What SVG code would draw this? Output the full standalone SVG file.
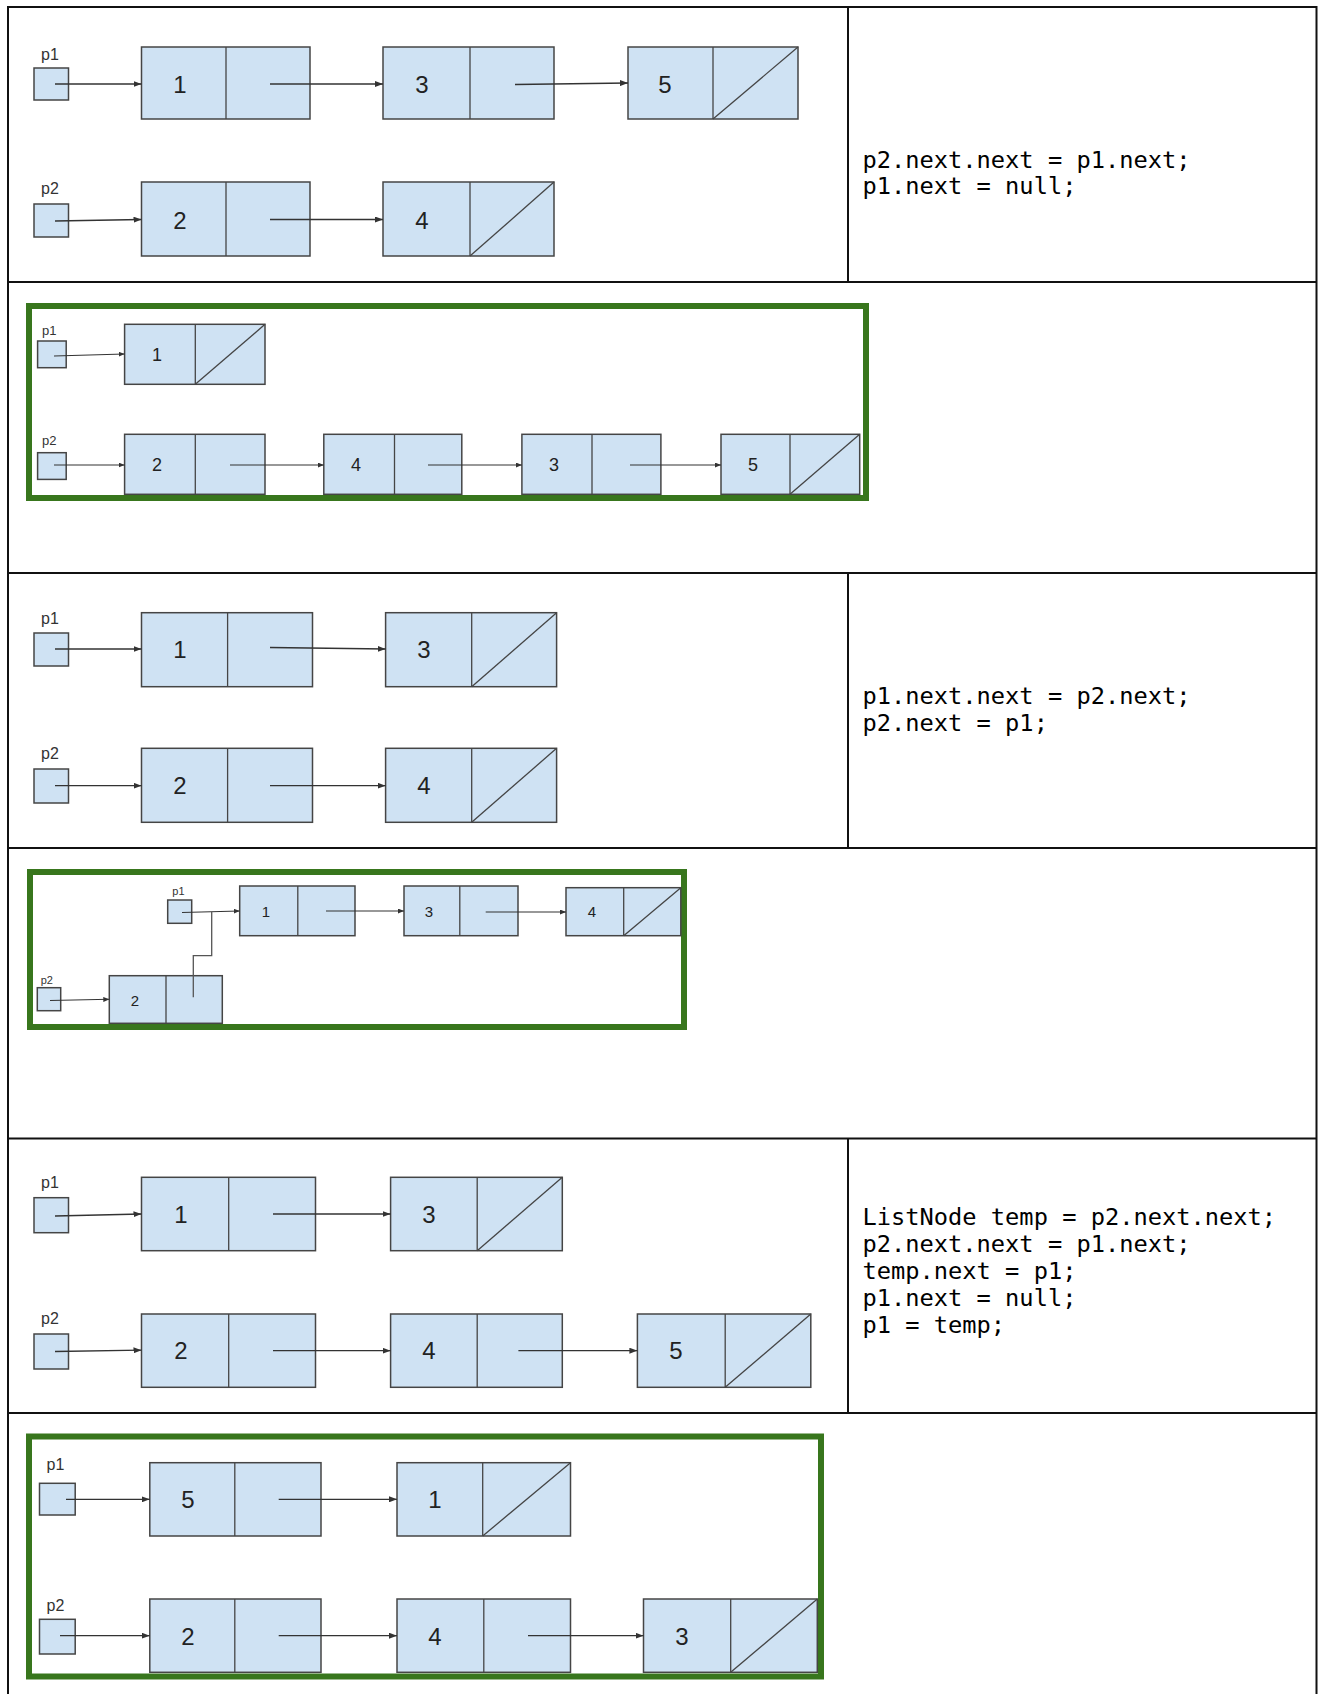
<svg xmlns="http://www.w3.org/2000/svg" width="1320" height="1694" viewBox="0 0 1320 1694">
<style>
.tbl{stroke:#111;stroke-width:2;fill:none}
.green{fill:none;stroke:#38761d;stroke-width:6}
.cell{fill:#cfe2f3;stroke:#454545;stroke-width:1.5}
.sep{stroke:#454545;stroke-width:1.3}
.arr{stroke:#333;stroke-width:1.3;fill:none;marker-end:url(#ah)}
.arrs{stroke:#333;stroke-width:1.1;fill:none;marker-end:url(#ahs)}
.link{stroke:#555;stroke-width:1.3;fill:none}
.num{font-family:"Liberation Sans",Arial,sans-serif;fill:#222;text-anchor:middle}
.lbl{font-family:"Liberation Sans",Arial,sans-serif;fill:#333}
.code{font-family:"DejaVu Sans Mono","Liberation Mono",monospace;font-size:23.7px;fill:#000}
</style>
<defs>
<marker id="ah" markerUnits="userSpaceOnUse" markerWidth="8" markerHeight="6" refX="8" refY="3" orient="auto"><path d="M0,0 L8,3 L0,6 z" fill="#333"/></marker>
<marker id="ahs" markerUnits="userSpaceOnUse" markerWidth="6" markerHeight="5" refX="6" refY="2.5" orient="auto"><path d="M0,0 L6,2.5 L0,5 z" fill="#333"/></marker>
</defs>
<rect width="1320" height="1694" fill="#fff"/>

<g id="table">
<path class="tbl" d="M8,7 H1316.5 M8,6 V1694 M1316.5,6 V1694 M8,282 H1316.5 M8,573 H1316.5 M8,848 H1316.5 M8,1138.5 H1316.5 M8,1413 H1316.5 M848,7 V282 M848,573 V848 M848,1138.5 V1413"/>
</g>

<g id="code">
<text class="code" x="862.5" y="168">p2.next.next = p1.next;</text>
<text class="code" x="862.5" y="194">p1.next = null;</text>
<text class="code" x="862.5" y="704">p1.next.next = p2.next;</text>
<text class="code" x="862.5" y="731">p2.next = p1;</text>
<text class="code" x="862.5" y="1225">ListNode temp = p2.next.next;</text>
<text class="code" x="862.5" y="1252">p2.next.next = p1.next;</text>
<text class="code" x="862.5" y="1279">temp.next = p1;</text>
<text class="code" x="862.5" y="1306">p1.next = null;</text>
<text class="code" x="862.5" y="1333">p1 = temp;</text>
</g>

<g id="frames">
<rect class="green" x="29" y="306" width="837" height="192"/>
<rect class="green" x="30" y="872" width="654" height="155"/>
<rect class="green" x="29" y="1436.5" width="792" height="240"/>
</g>

<!-- Row 1 -->
<g id="r1-p1"><text class="lbl" x="41" y="60" font-size="16">p1</text><rect class="cell" x="34" y="68" width="34.5" height="32"/></g>
<g id="r1-n1"><rect class="cell" x="141.5" y="47" width="168.5" height="72"/><line class="sep" x1="226" y1="47" x2="226" y2="119"/><text class="num" x="180" y="92.5" font-size="24">1</text></g>
<g id="r1-n3"><rect class="cell" x="383" y="47" width="171" height="72"/><line class="sep" x1="470" y1="47" x2="470" y2="119"/><text class="num" x="422" y="92.5" font-size="24">3</text></g>
<g id="r1-n5"><rect class="cell" x="628" y="47" width="170" height="72"/><line class="sep" x1="713" y1="47" x2="713" y2="119"/><line class="sep" x1="713" y1="119" x2="798" y2="47"/><text class="num" x="665" y="92.5" font-size="24">5</text></g>
<g id="r1-p2"><text class="lbl" x="41" y="194" font-size="16">p2</text><rect class="cell" x="34" y="204" width="34.5" height="33"/></g>
<g id="r1-n2"><rect class="cell" x="141.5" y="182" width="168.5" height="74"/><line class="sep" x1="226" y1="182" x2="226" y2="256"/><text class="num" x="180" y="228.5" font-size="24">2</text></g>
<g id="r1-n4"><rect class="cell" x="383" y="182" width="171" height="74"/><line class="sep" x1="470" y1="182" x2="470" y2="256"/><line class="sep" x1="470" y1="256" x2="554" y2="182"/><text class="num" x="422" y="228.5" font-size="24">4</text></g>

<!-- Row 2 -->
<g id="r2-p1"><text class="lbl" x="42" y="335" font-size="13">p1</text><rect class="cell" x="37.6" y="341" width="28.6" height="26.7"/></g>
<g id="r2-n1"><rect class="cell" x="124.6" y="324.3" width="140.4" height="60"/><line class="sep" x1="195.3" y1="324.3" x2="195.3" y2="384.3"/><line class="sep" x1="195.3" y1="384.3" x2="265" y2="324.3"/><text class="num" x="157" y="360.5" font-size="18">1</text></g>
<g id="r2-p2"><text class="lbl" x="42" y="445" font-size="13">p2</text><rect class="cell" x="37.6" y="452.7" width="28.6" height="26.7"/></g>
<g id="r2-n2"><rect class="cell" x="124.6" y="434.3" width="140.4" height="60"/><line class="sep" x1="195.3" y1="434.3" x2="195.3" y2="494.3"/><text class="num" x="157" y="471" font-size="18">2</text></g>
<g id="r2-n4"><rect class="cell" x="323.8" y="434.3" width="138" height="60"/><line class="sep" x1="394.5" y1="434.3" x2="394.5" y2="494.3"/><text class="num" x="356" y="471" font-size="18">4</text></g>
<g id="r2-n3"><rect class="cell" x="521.9" y="434.3" width="139" height="60"/><line class="sep" x1="592" y1="434.3" x2="592" y2="494.3"/><text class="num" x="554" y="471" font-size="18">3</text></g>
<g id="r2-n5"><rect class="cell" x="721" y="434.3" width="138.7" height="60"/><line class="sep" x1="790" y1="434.3" x2="790" y2="494.3"/><line class="sep" x1="790" y1="494.3" x2="859.7" y2="434.3"/><text class="num" x="753" y="471" font-size="18">5</text></g>

<!-- Row 3 -->
<g id="r3-p1"><text class="lbl" x="41" y="624" font-size="16">p1</text><rect class="cell" x="34" y="633" width="34.5" height="33"/></g>
<g id="r3-n1"><rect class="cell" x="141.5" y="612.7" width="171" height="74"/><line class="sep" x1="227.6" y1="612.7" x2="227.6" y2="686.7"/><text class="num" x="180" y="658" font-size="24">1</text></g>
<g id="r3-n3"><rect class="cell" x="385.6" y="612.7" width="171" height="74"/><line class="sep" x1="471.7" y1="612.7" x2="471.7" y2="686.7"/><line class="sep" x1="471.7" y1="686.7" x2="556.6" y2="612.7"/><text class="num" x="424" y="658" font-size="24">3</text></g>
<g id="r3-p2"><text class="lbl" x="41" y="759" font-size="16">p2</text><rect class="cell" x="34" y="769" width="34.5" height="34"/></g>
<g id="r3-n2"><rect class="cell" x="141.5" y="748.3" width="171" height="74"/><line class="sep" x1="227.6" y1="748.3" x2="227.6" y2="822.3"/><text class="num" x="180" y="794" font-size="24">2</text></g>
<g id="r3-n4"><rect class="cell" x="385.6" y="748.3" width="171" height="74"/><line class="sep" x1="471.7" y1="748.3" x2="471.7" y2="822.3"/><line class="sep" x1="471.7" y1="822.3" x2="556.6" y2="748.3"/><text class="num" x="424" y="794" font-size="24">4</text></g>

<!-- Row 4 -->
<g id="r4-p1"><text class="lbl" x="172.3" y="894.5" font-size="11">p1</text><rect class="cell" x="167.7" y="900" width="24" height="23.3"/></g>
<g id="r4-n1"><rect class="cell" x="239.7" y="886" width="115.3" height="49.7"/><line class="sep" x1="297.8" y1="886" x2="297.8" y2="935.7"/><text class="num" x="266" y="917" font-size="15">1</text></g>
<g id="r4-n3"><rect class="cell" x="404" y="886" width="114" height="49.7"/><line class="sep" x1="459.8" y1="886" x2="459.8" y2="935.7"/><text class="num" x="429" y="917" font-size="15">3</text></g>
<g id="r4-n4"><rect class="cell" x="566" y="887.7" width="114.8" height="48"/><line class="sep" x1="623.7" y1="887.7" x2="623.7" y2="935.7"/><line class="sep" x1="623.7" y1="935.7" x2="680.8" y2="887.7"/><text class="num" x="592" y="917" font-size="15">4</text></g>
<g id="r4-p2"><text class="lbl" x="40.7" y="983.5" font-size="11">p2</text><rect class="cell" x="37.3" y="987.7" width="23.4" height="23"/></g>
<g id="r4-n2"><rect class="cell" x="109.3" y="975.7" width="113" height="47.6"/><line class="sep" x1="166" y1="975.7" x2="166" y2="1023.3"/><text class="num" x="135" y="1005.5" font-size="15">2</text></g>

<!-- Row 5 -->
<g id="r5-p1"><text class="lbl" x="41" y="1188" font-size="16">p1</text><rect class="cell" x="34" y="1197.7" width="34.5" height="35"/></g>
<g id="r5-n1"><rect class="cell" x="141.5" y="1177.3" width="174" height="73.4"/><line class="sep" x1="228.7" y1="1177.3" x2="228.7" y2="1250.7"/><text class="num" x="181" y="1222.5" font-size="24">1</text></g>
<g id="r5-n3"><rect class="cell" x="390.6" y="1177.3" width="171.7" height="73.4"/><line class="sep" x1="477.2" y1="1177.3" x2="477.2" y2="1250.7"/><line class="sep" x1="477.2" y1="1250.7" x2="562.3" y2="1177.3"/><text class="num" x="429" y="1222.5" font-size="24">3</text></g>
<g id="r5-p2"><text class="lbl" x="41" y="1324" font-size="16">p2</text><rect class="cell" x="34" y="1334" width="34.5" height="35"/></g>
<g id="r5-n2"><rect class="cell" x="141.5" y="1314" width="174" height="73.3"/><line class="sep" x1="228.7" y1="1314" x2="228.7" y2="1387.3"/><text class="num" x="181" y="1359" font-size="24">2</text></g>
<g id="r5-n4"><rect class="cell" x="390.6" y="1314" width="171.7" height="73.3"/><line class="sep" x1="477.2" y1="1314" x2="477.2" y2="1387.3"/><text class="num" x="429" y="1359" font-size="24">4</text></g>
<g id="r5-n5"><rect class="cell" x="637.4" y="1314" width="173.4" height="73.3"/><line class="sep" x1="725.2" y1="1314" x2="725.2" y2="1387.3"/><line class="sep" x1="725.2" y1="1387.3" x2="810.8" y2="1314"/><text class="num" x="676" y="1359" font-size="24">5</text></g>

<!-- Row 6 -->
<g id="r6-p1"><text class="lbl" x="46.6" y="1470" font-size="16">p1</text><rect class="cell" x="39.5" y="1483.3" width="35.7" height="31.7"/></g>
<g id="r6-n5"><rect class="cell" x="149.8" y="1462.7" width="171.2" height="73.3"/><line class="sep" x1="234.8" y1="1462.7" x2="234.8" y2="1536"/><text class="num" x="188" y="1508" font-size="24">5</text></g>
<g id="r6-n1"><rect class="cell" x="397" y="1462.7" width="173.5" height="73.3"/><line class="sep" x1="482.7" y1="1462.7" x2="482.7" y2="1536"/><line class="sep" x1="482.7" y1="1536" x2="570.5" y2="1462.7"/><text class="num" x="435" y="1508" font-size="24">1</text></g>
<g id="r6-p2"><text class="lbl" x="46.6" y="1611" font-size="16">p2</text><rect class="cell" x="39.5" y="1619.3" width="35.7" height="34.7"/></g>
<g id="r6-n2"><rect class="cell" x="149.8" y="1599" width="171.2" height="73.3"/><line class="sep" x1="234.8" y1="1599" x2="234.8" y2="1672.3"/><text class="num" x="188" y="1644.5" font-size="24">2</text></g>
<g id="r6-n4"><rect class="cell" x="397" y="1599" width="173.5" height="73.3"/><line class="sep" x1="483.8" y1="1599" x2="483.8" y2="1672.3"/><text class="num" x="435" y="1644.5" font-size="24">4</text></g>
<g id="r6-n3"><rect class="cell" x="643.5" y="1599" width="173.8" height="73.3"/><line class="sep" x1="730.7" y1="1599" x2="730.7" y2="1672.3"/><line class="sep" x1="730.7" y1="1672.3" x2="817.3" y2="1599"/><text class="num" x="682" y="1644.5" font-size="24">3</text></g>

<g id="connectors">
<!-- row 1 -->
<line class="arr" x1="55" y1="84" x2="141.5" y2="84"/>
<line class="arr" x1="270" y1="84" x2="383" y2="84"/>
<line class="arr" x1="515" y1="84.5" x2="628" y2="83"/>
<line class="arr" x1="55" y1="221" x2="141.5" y2="219.5"/>
<line class="arr" x1="270" y1="219.5" x2="383" y2="219.5"/>
<!-- row 2 -->
<line class="arrs" x1="54" y1="356" x2="124.6" y2="354"/>
<line class="arrs" x1="54" y1="465" x2="124.6" y2="465"/>
<line class="arrs" x1="230" y1="465" x2="323.8" y2="465"/>
<line class="arrs" x1="428" y1="465" x2="521.9" y2="465"/>
<line class="arrs" x1="630" y1="465" x2="721" y2="465"/>
<!-- row 3 -->
<line class="arr" x1="55" y1="649" x2="141.5" y2="649"/>
<line class="arr" x1="270" y1="647.5" x2="385.6" y2="649"/>
<line class="arr" x1="55" y1="785.7" x2="141.5" y2="785.7"/>
<line class="arr" x1="270" y1="785.7" x2="385.6" y2="785.7"/>
<!-- row 4 -->
<line class="arrs" x1="182" y1="912.5" x2="239.7" y2="911"/>
<line class="arrs" x1="326" y1="911" x2="404" y2="911"/>
<line class="arrs" x1="485.7" y1="912" x2="566" y2="912"/>
<path class="link" d="M193.3,997.3 V955.7 H211.7 V912"/>
<line class="arrs" x1="50" y1="1000.5" x2="109.3" y2="999.3"/>
<!-- row 5 -->
<line class="arr" x1="55" y1="1216" x2="141.5" y2="1214"/>
<line class="arr" x1="273" y1="1214" x2="390.6" y2="1214"/>
<line class="arr" x1="55" y1="1351.5" x2="141.5" y2="1350.2"/>
<line class="arr" x1="273" y1="1350.7" x2="390.6" y2="1350.7"/>
<line class="arr" x1="518.4" y1="1350.7" x2="637.4" y2="1350.7"/>
<!-- row 6 -->
<line class="arr" x1="66" y1="1499.3" x2="149.8" y2="1499.3"/>
<line class="arr" x1="278.7" y1="1499.3" x2="397" y2="1499.3"/>
<line class="arr" x1="60" y1="1635.7" x2="149.8" y2="1635.7"/>
<line class="arr" x1="278.7" y1="1635.7" x2="397" y2="1635.7"/>
<line class="arr" x1="528" y1="1635.7" x2="643.5" y2="1635.7"/>
</g>
</svg>
